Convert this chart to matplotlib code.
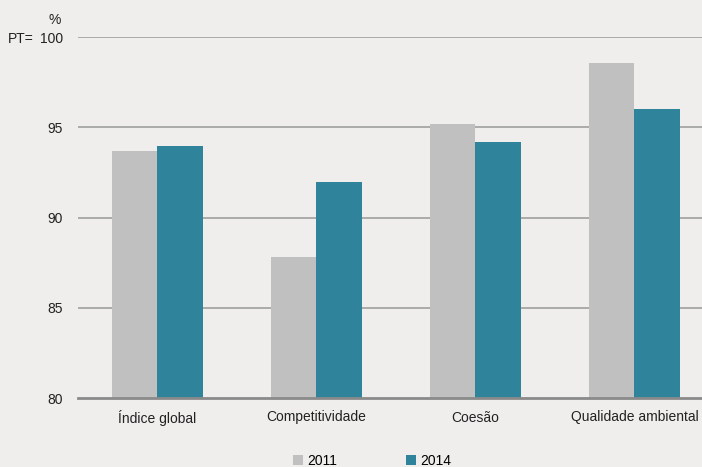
import matplotlib.pyplot as plt
import numpy as np

plt.rcParams['font.family'] = ['Liberation Sans', 'DejaVu Sans']

# data
categories = ['Índice global', 'Competitividade', 'Coesão', 'Qualidade ambiental']
v2011 = [93.7, 87.8, 95.2, 98.6]
v2014 = [94.0, 92.0, 94.2, 96.0]
yticks = [80, 85, 90, 95, 100]

bg = '#efeeec'
c2011 = '#c0c0c0'
c2014 = '#2f839b'
txt = '#222222'

fig = plt.figure(figsize=(7.02, 4.67), dpi=100, facecolor=bg)
ax = fig.add_axes([78 / 702, 1 - 398 / 467, 1 - 78 / 702, (398 - 37.3) / 467])
ax.set_facecolor(bg)

x = np.arange(len(categories))
w = 0.286
ax.bar(x - w / 2, v2011, w, color=c2011, label='2011', zorder=3)
ax.bar(x + w / 2, v2014, w, color=c2014, label='2014', zorder=3)

ax.set_ylim(80, 100)
ax.set_xlim(-0.5, 3.425)
ax.set_yticks(yticks)
ax.set_yticklabels([str(t) for t in yticks])
ax.set_xticks(x)
ax.set_xticklabels(categories)
ax.tick_params(axis='y', length=0, pad=11, labelsize=10, colors=txt)
ax.tick_params(axis='x', length=0, pad=9, labelsize=10, colors=txt)

for t in yticks[1:]:
    ax.axhline(t, color='#a5a5a5', linewidth=1.3, zorder=1)
for s in ['top', 'right', 'left']:
    ax.spines[s].set_visible(False)
ax.spines['bottom'].set_color('#8a8a8a')
ax.spines['bottom'].set_linewidth(2)
ax.spines['bottom'].set_zorder(4)

fig.text(55 / 702, 1 - 20 / 467, '%', fontsize=10, ha='center', va='center', color=txt)
fig.text(8 / 702, 1 - 39 / 467, 'PT=', fontsize=10, ha='left', va='center', color=txt)

fig.legend(loc='center', bbox_to_anchor=(372 / 702, 1 - 461 / 467), ncol=2, frameon=False,
           handlelength=0.7, handleheight=0.7, handletextpad=0.3, columnspacing=5.0,
           fontsize=10)

fig.savefig('out.png', dpi=100, facecolor=bg)
